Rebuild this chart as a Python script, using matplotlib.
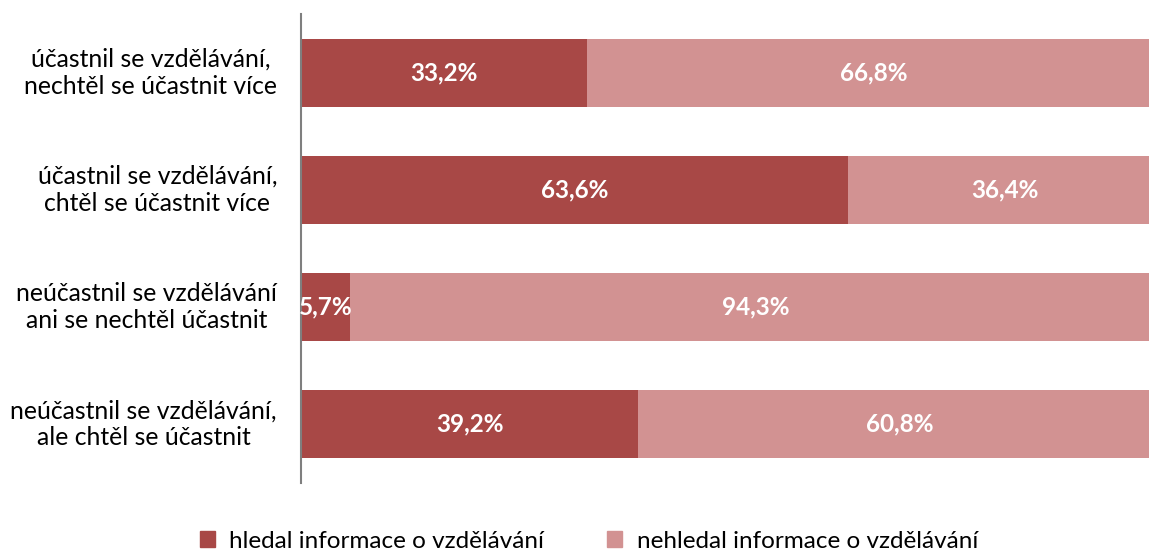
import matplotlib
matplotlib.use("Agg")
import matplotlib.pyplot as plt
from matplotlib.patches import Patch

plt.rcParams['font.family'] = ['Lato', 'DejaVu Sans']

categories = [
    "účastnil se vzdělávání,\nnechtěl se účastnit více",
    "účastnil se vzdělávání,\nchtěl se účastnit více",
    "neúčastnil se vzdělávání\nani se nechtěl účastnit",
    "neúčastnil se vzdělávání,\nale chtěl se účastnit",
]
hledal = [33.2, 63.6, 5.7, 39.2]
nehledal = [66.8, 36.4, 94.3, 60.8]
series_names = ["hledal informace o vzdělávání", "nehledal informace o vzdělávání"]
c_dark = "#A84846"
c_light = "#D29292"

fig = plt.figure(figsize=(11.49, 5.52), dpi=100)
ax = fig.add_axes([301/1149, 69/552, 860/1149, 469/552])

y = list(range(len(categories)))
ax.barh(y, hledal, height=0.58, color=c_dark)
ax.barh(y, nehledal, left=hledal, height=0.58, color=c_light)

for i in y:
    ax.text(hledal[i] / 2, i, f"{hledal[i]:.1f}%".replace(".", ","), ha="center", va="center",
            color="white", fontsize=17.5, fontweight="bold")
    ax.text(hledal[i] + nehledal[i] / 2, i, f"{nehledal[i]:.1f}%".replace(".", ","), ha="center",
            va="center", color="white", fontsize=17.5, fontweight="bold")

ax.set_xlim(0, 100)
ax.set_ylim(len(categories) - 0.5, -0.5)
ax.set_xticks([])
ax.set_yticks([])
for s in ["top", "right", "bottom"]:
    ax.spines[s].set_visible(False)
ax.spines["left"].set_color("#7f7f7f")
ax.spines["left"].set_linewidth(1.5)

for i, c in enumerate(categories):
    ax.annotate(c, xy=(0, i), xycoords=("axes fraction", "data"), xytext=(-24 * 0.72, 0),
                textcoords="offset points", ha="right", va="center", multialignment="center",
                fontsize=17.8, linespacing=1.2, color="black")

handles = [Patch(color=c_dark, label=series_names[0]), Patch(color=c_light, label=series_names[1])]
fig.legend(handles=handles, loc="center", bbox_to_anchor=(589/1149, 1 - 541/552), ncol=2,
           frameon=False, fontsize=17.5, handlelength=0.6, handleheight=0.6,
           columnspacing=2.6, handletextpad=0.6, borderpad=0)

fig.savefig("out.png", dpi=100)
